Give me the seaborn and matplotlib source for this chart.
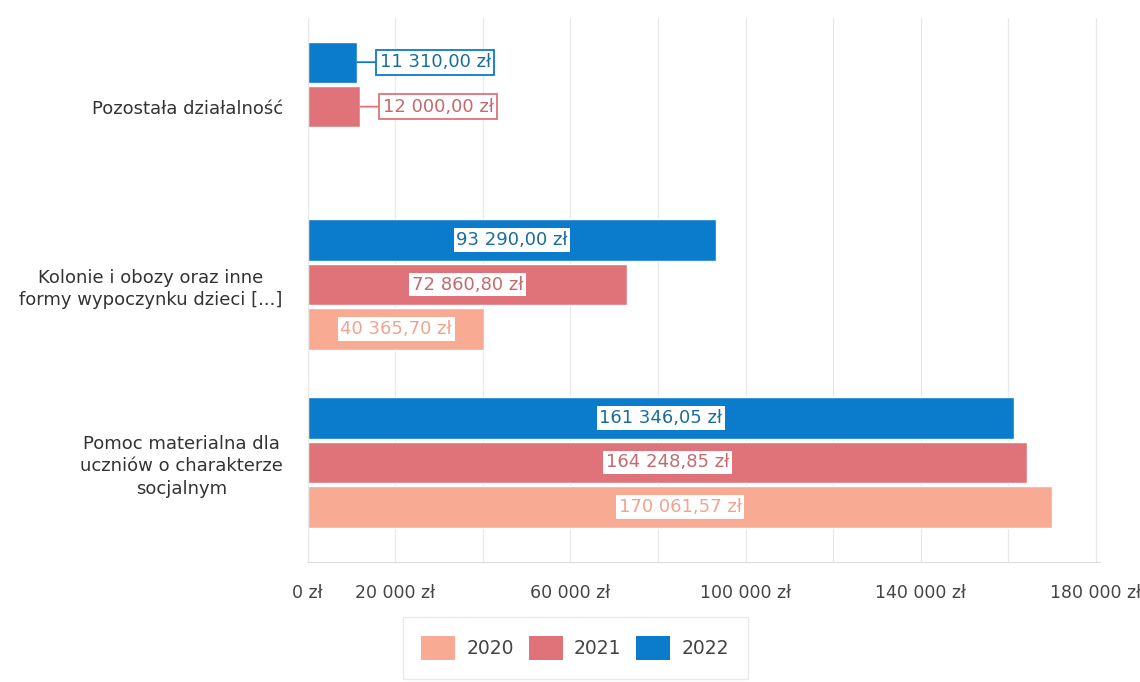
import matplotlib
matplotlib.use("Agg")
import matplotlib.pyplot as plt
import seaborn as sns
import pandas as pd
import numpy as np
from matplotlib.ticker import MultipleLocator, FixedLocator

categories = [
    "Pozostała działalność",
    "Kolonie i obozy oraz inne\nformy wypoczynku dzieci [...]",
    "Pomoc materialna dla\nuczniów o charakterze\nsocjalnym",
]
years = ["2022", "2021", "2020"]
values_2022 = [11310.00, 93290.00, 161346.05]
values_2021 = [12000.00, 72860.80, 164248.85]
values_2020 = [np.nan, 40365.70, 170061.57]
tick_values = [0, 20000, 40000, 60000, 80000, 100000, 120000, 140000, 160000, 180000]
tick_labels = ["0 zł", "20 000 zł", "", "60 000 zł", "", "100 000 zł", "", "140 000 zł", "", "180 000 zł"]

bar_colors = {"2020": "#F8AA92", "2021": "#E0737A", "2022": "#0B7BCB"}
text_colors = {"2020": "#F0A48E", "2021": "#C46A6E", "2022": "#1A6C9E"}

rows = []
for y, vals in zip(years, [values_2022, values_2021, values_2020]):
    for c, v in zip(categories, vals):
        if not np.isnan(v):
            rows.append({"cat": c, "year": y, "value": v})
df = pd.DataFrame(rows)

sns.set_style("white")
plt.rcParams["font.family"] = ["DejaVu Sans"]

fig = plt.figure(figsize=(11.4, 6.82), dpi=100)
ax = fig.add_axes([0.270, 0.176, 0.695, 0.798])

sns.barplot(data=df, y="cat", x="value", hue="year", order=categories,
            hue_order=years, palette=bar_colors, orient="h", width=0.75,
            gap=0.07, saturation=1, ax=ax, legend=False, errorbar=None)

ax.set_xlim(0, 181000)
ax.set_ylim(2.56, -0.5)
ax.set_xlabel("")
ax.set_ylabel("")

ax.xaxis.set_major_locator(FixedLocator(tick_values))
ax.set_xticklabels(tick_labels)
ax.xaxis.set_minor_locator(MultipleLocator(10000))
ax.grid(axis="x", which="major", color="#E8E8E8", linewidth=0.9)
ax.set_axisbelow(True)
ax.tick_params(axis="x", which="major", length=8, color="#DDDDDD", labelsize=12.5,
               labelcolor="#444444", pad=12, direction="inout")
ax.tick_params(axis="x", which="minor", length=4, color="#DDDDDD", direction="inout")
ax.tick_params(axis="y", length=0, labelsize=13, labelcolor="#333333", pad=18)
for lab in ax.get_yticklabels():
    lab.set_multialignment("center")
    lab.set_linespacing(1.3)

for s in ["top", "right"]:
    ax.spines[s].set_visible(False)
ax.spines["left"].set_color("#E8E8E8")
ax.spines["bottom"].set_color("#DDDDDD")

# labels
for container, y in zip(ax.containers, years):
    for bar in container:
        w = bar.get_width()
        if np.isnan(w) or w == 0:
            continue
        yc = bar.get_y() + bar.get_height() / 2
        txt = f"{w:,.2f}".replace(",", " ").replace(".", ",") + " zł"
        if w < 20000:
            ax.annotate(txt, xy=(w, yc), xytext=(16, 0), textcoords="offset points",
                        ha="left", va="center", fontsize=13, color=text_colors[y],
                        bbox=dict(boxstyle="square,pad=0.2", fc="white",
                                  ec=bar_colors[y], lw=1.3),
                        arrowprops=dict(arrowstyle="-", color=bar_colors[y], lw=1.3,
                                        shrinkA=0, shrinkB=0))
        else:
            ax.text(w / 2, yc, txt, ha="center", va="center", fontsize=13,
                    color=text_colors[y],
                    bbox=dict(boxstyle="square,pad=0.15", fc="white", ec="none"))

# legend
from matplotlib.patches import Patch
handles = [Patch(facecolor=bar_colors[y], edgecolor="none") for y in ["2020", "2021", "2022"]]
leg = fig.legend(handles, ["2020", "2021", "2022"], loc="center",
                 bbox_to_anchor=(575 / 1140, 1 - 648 / 682), ncol=3, frameon=True,
                 fancybox=False, fontsize=13.5, handlelength=1.8, handleheight=1.6,
                 columnspacing=0.8, handletextpad=0.6, borderpad=1.0,
                 labelcolor="#444444")
leg.get_frame().set_edgecolor("#E4E4E4")
leg.get_frame().set_linewidth(1.0)

fig.savefig("out.png", dpi=100, facecolor="white")
